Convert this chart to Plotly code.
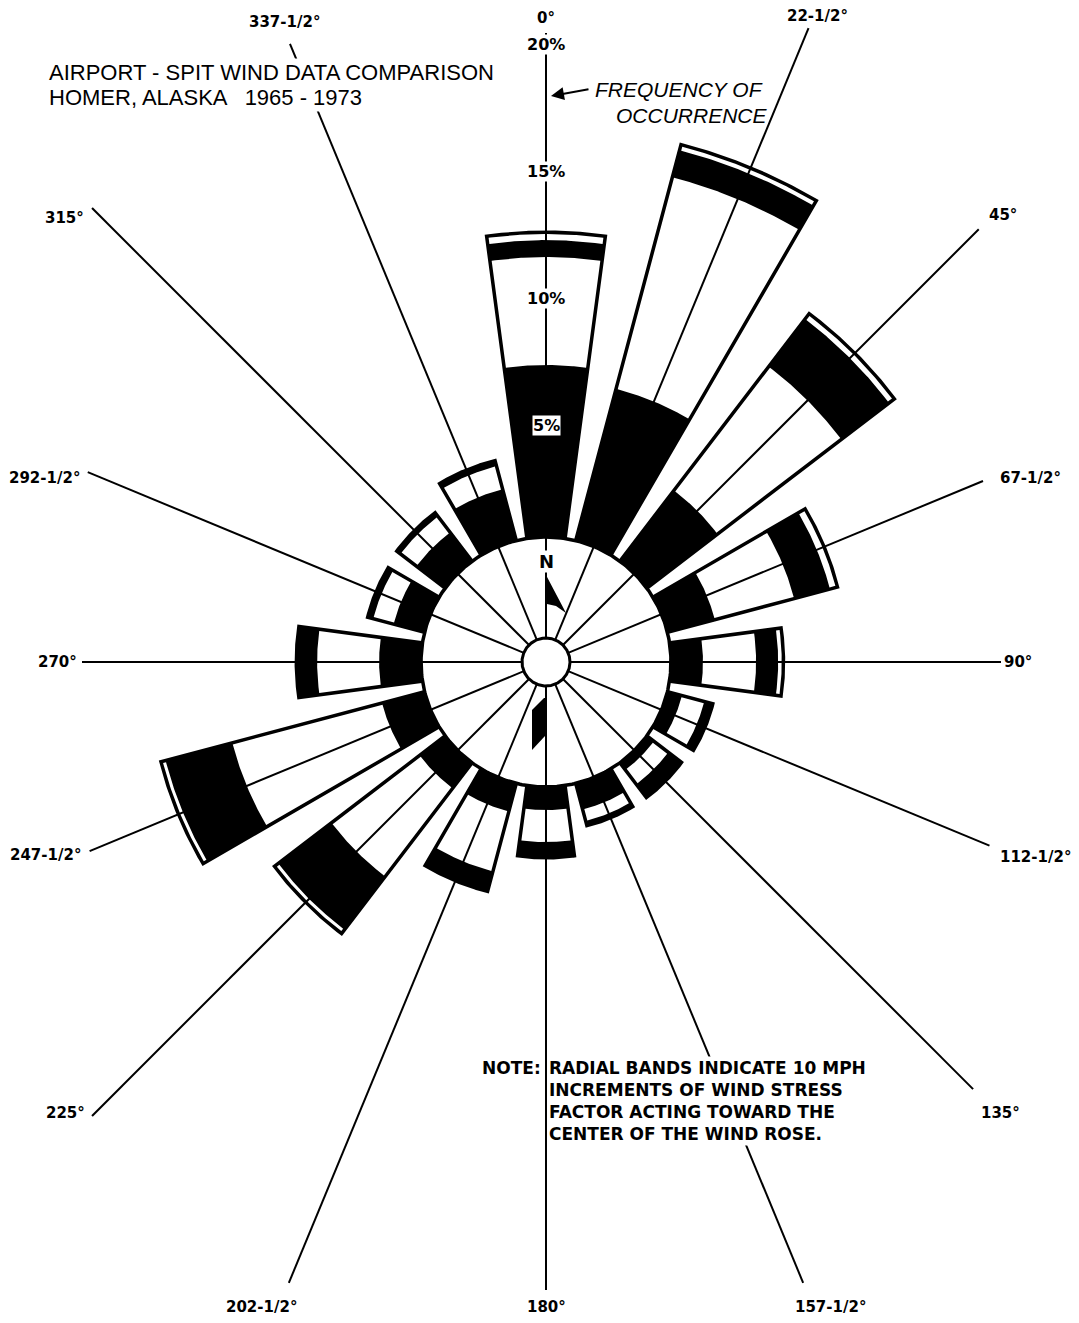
import numpy as np
import plotly.graph_objects as go

# ---------------- data ----------------
DIRECTIONS = [0, 22.5, 45, 67.5, 90, 112.5, 135, 157.5,
              180, 202.5, 225, 247.5, 270, 292.5, 315, 337.5]
DIR_LABELS = ["0°", "22-1/2°", "45°", "67-1/2°", "90°", "112-1/2°", "135°", "157-1/2°",
              "180°", "202-1/2°", "225°", "247-1/2°", "270°", "292-1/2°", "315°", "337-1/2°"]
# frequency of occurrence (%) carried by each 10-mph wind-stress band
BAND_0_10 = [6.77, 6.18, 3.50, 1.93, 1.26, 0.59, 0.35, 1.06,
             0.91, 1.14, 1.26, 1.73, 1.65, 1.26, 1.42, 2.09]
BAND_10_20 = [4.25, 8.62, 6.14, 3.23, 2.09, 0.91, 0.71, 0.47,
              1.26, 2.44, 4.37, 6.10, 2.44, 0.83, 0.79, 0.94]
BAND_20_30 = [0.67, 1.10, 2.36, 1.46, 0.87, 0.28, 0.59, 0.12,
              0.55, 0.75, 2.64, 2.72, 0.75, 0.16, 0.12, 0.16]
BAND_30_40 = [0.24, 0.16, 0.20, 0.24, 0.14, 0.0, 0.0, 0.0,
              0.0, 0.0, 0.12, 0.12, 0.0, 0.0, 0.0, 0.0]
PCT_TICKS = [5, 10, 15, 20]
PCT_LABELS = ["5%", "10%", "15%", "20%"]

# ---------------- geometry / style ----------------
R0 = 125.0      # radius of the 0 % circle (compass ring)
K = 25.4        # radius units per 1 %
HALF = 7.6      # half opening angle of a wedge (deg)
W0 = 4.3        # side offset of a wedge
T = 3.5         # outline thickness
HUB_R = 24
SPOKE_END = [629, 686, 612, 473, 455, 480, 604, 672,
             628, 672, 642, 494, 464, 496, 642, 669]
LABEL_POS = [(644, 0), (701, 22.8), (639, 45.6), (518, 69.2), (472, 90), (527, 111.7),
             (640, 134.8), (705, 156.2), (645, 180), (705, 203.8), (659, 226.8),
             (537, 248.9), (489, 270), (534, 290.2), (655, 312.7), (691, 337.8)]

# page body has an 8px margin: size the figure so the rose centre lands at (546, 662)
BODY = 8
FIG_W, FIG_H = 1079 - BODY, 1323 - 2 * BODY
CX, CY = 546 - BODY, 662 - BODY


def rad(p):
    return R0 + K * p


def xy(r, deg):
    a = np.radians(deg)
    return r * np.sin(a), r * np.cos(a)


def band(theta, r1, r2, w, n=60):
    a1 = HALF + np.degrees(np.arcsin(w / r1))
    a2 = HALF + np.degrees(np.arcsin(w / r2))
    t1 = np.radians(np.linspace(theta - a1, theta + a1, n))
    t2 = np.radians(np.linspace(theta + a2, theta - a2, n))
    x = np.r_[r1 * np.sin(t1), r2 * np.sin(t2)]
    y = np.r_[r1 * np.cos(t1), r2 * np.cos(t2)]
    return x, y


def poly(x, y, color):
    return go.Scatter(x=x, y=y, mode="lines", fill="toself", fillcolor=color,
                      line=dict(width=0, color=color), hoverinfo="skip", showlegend=False)


fig = go.Figure()

# wedges
for i, th in enumerate(DIRECTIONS):
    c1 = BAND_0_10[i]
    c2 = c1 + BAND_10_20[i]
    c3 = c2 + BAND_20_30[i]
    c4 = c3 + BAND_30_40[i]
    x, y = band(th, R0 - 1, rad(c4) + T, W0)
    fig.add_trace(poly(x, y, "black"))
    x, y = band(th, rad(c1), rad(c2), W0 - T)
    fig.add_trace(poly(x, y, "white"))
    if BAND_30_40[i] > 0:
        x, y = band(th, rad(c3), rad(c4), W0 - T)
        fig.add_trace(poly(x, y, "white"))

# spokes
sx, sy = [], []
for i, th in enumerate(DIRECTIONS):
    x0, y0 = xy(HUB_R, th)
    x1, y1 = xy(SPOKE_END[i], th)
    sx += [x0, x1, None]
    sy += [y0, y1, None]
fig.add_trace(go.Scatter(x=sx, y=sy, mode="lines", line=dict(color="black", width=2),
                         hoverinfo="skip", showlegend=False))

# compass ring and hub
ang = np.radians(np.linspace(0, 360, 361))
fig.add_trace(go.Scatter(x=R0 * np.sin(ang), y=R0 * np.cos(ang), mode="lines",
                         line=dict(color="black", width=3.5), hoverinfo="skip", showlegend=False))
fig.add_trace(go.Scatter(x=HUB_R * np.sin(ang), y=HUB_R * np.cos(ang), mode="lines",
                         fill="toself", fillcolor="white",
                         line=dict(color="black", width=3), hoverinfo="skip", showlegend=False))

# compass needle (north flag and south tail)
fig.add_trace(poly([0, 20, 10, 1], [87, 49, 56, 58], "black"))
fig.add_trace(poly([-2, -14, -14, -1, -1], [-36, -48, -88, -74, -36], "black"))

ann = []
LBL = dict(family="DejaVu Sans", size=15, color="black", weight="bold")
for (r, a), txt in zip(LABEL_POS, DIR_LABELS):
    x, y = xy(r, a)
    ann.append(dict(x=x, y=y, text=txt, showarrow=False, font=LBL,
                    xanchor="center", yanchor="middle"))

for p, txt in zip(PCT_TICKS, PCT_LABELS):
    ann.append(dict(x=0, y=rad(p) - 15, text=txt, showarrow=False,
                    font=dict(family="DejaVu Sans", size=16, color="black", weight="bold"),
                    bgcolor="white", borderpad=0, xanchor="center", yanchor="middle"))

ann.append(dict(x=0, y=101, text="N", showarrow=False,
                font=dict(family="DejaVu Sans", size=18, color="black", weight="bold"),
                bgcolor="white", borderpad=0, xanchor="center", yanchor="middle"))

TITLE_FONT = dict(family="Liberation Sans", size=22, color="black")
ann.append(dict(x=-499, y=590, text="AIRPORT - SPIT WIND DATA COMPARISON", showarrow=False,
                font=TITLE_FONT, bgcolor="white", xanchor="left", yanchor="middle"))
ann.append(dict(x=-499, y=565, text="HOMER, ALASKA   1965 - 1973", showarrow=False,
                font=TITLE_FONT, bgcolor="white", xanchor="left", yanchor="middle"))

FREQ_FONT = dict(family="Liberation Sans", size=21, color="black", style="italic")
ann.append(dict(x=133, y=573, text="FREQUENCY OF", showarrow=False, font=FREQ_FONT,
                xanchor="center", yanchor="middle"))
ann.append(dict(x=146, y=547, text="OCCURRENCE", showarrow=False, font=FREQ_FONT,
                xanchor="center", yanchor="middle"))
ann.append(dict(x=5, y=566, ax=39, ay=-7, text="", showarrow=True, arrowhead=2,
                arrowsize=1.3, arrowwidth=2, arrowcolor="black"))

NOTE_FONT = dict(family="DejaVu Sans", size=17, color="black", weight="bold")
ann.append(dict(x=-66, y=-406, text="NOTE:", showarrow=False, font=NOTE_FONT,
                xanchor="left", yanchor="middle"))
ann.append(dict(x=1, y=-394, text="RADIAL BANDS INDICATE 10 MPH<br>INCREMENTS OF WIND STRESS<br>"
                "FACTOR ACTING TOWARD THE<br>CENTER OF THE WIND ROSE.",
                showarrow=False, font=NOTE_FONT, align="left", bgcolor="white",
                xanchor="left", yanchor="top"))

fig.update_layout(
    width=FIG_W, height=FIG_H, margin=dict(l=0, r=0, t=0, b=0),
    paper_bgcolor="white", plot_bgcolor="white",
    xaxis=dict(range=[-CX, FIG_W - CX], visible=False, fixedrange=True),
    yaxis=dict(range=[-(FIG_H - CY), CY], visible=False, fixedrange=True),
    annotations=ann, showlegend=False,
)
fig.write_html("out.html", config={"displayModeBar": False})
